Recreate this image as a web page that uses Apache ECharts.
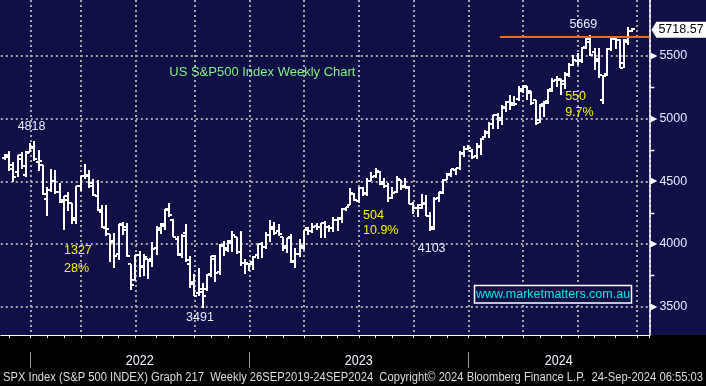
<!DOCTYPE html>
<html><head><meta charset="utf-8">
<script src="https://cdn.jsdelivr.net/npm/echarts@6/dist/echarts.min.js"></script>
<style>html,body{margin:0;padding:0;background:#000}#c{width:706px;height:386px}</style>
</head><body><div id="c"></div>
<script>
// ---------------- DATA ----------------
const weeks = [
'2021-11-19','2021-11-26','2021-12-03','2021-12-10','2021-12-17','2021-12-24','2021-12-31',
'2022-01-07','2022-01-14','2022-01-21','2022-01-28','2022-02-04','2022-02-11','2022-02-18','2022-02-25',
'2022-03-04','2022-03-11','2022-03-18','2022-03-25','2022-04-01','2022-04-08','2022-04-15','2022-04-22','2022-04-29',
'2022-05-06','2022-05-13','2022-05-20','2022-05-27','2022-06-03','2022-06-10','2022-06-17','2022-06-24',
'2022-07-01','2022-07-08','2022-07-15','2022-07-22','2022-07-29','2022-08-05','2022-08-12','2022-08-19','2022-08-26',
'2022-09-02','2022-09-09','2022-09-16','2022-09-23','2022-09-30','2022-10-07','2022-10-14','2022-10-21','2022-10-28',
'2022-11-04','2022-11-11','2022-11-18','2022-11-25','2022-12-02','2022-12-09','2022-12-16','2022-12-23','2022-12-30',
'2023-01-06','2023-01-13','2023-01-20','2023-01-27','2023-02-03','2023-02-10','2023-02-17','2023-02-24',
'2023-03-03','2023-03-10','2023-03-17','2023-03-24','2023-03-31','2023-04-07','2023-04-14','2023-04-21','2023-04-28',
'2023-05-05','2023-05-12','2023-05-19','2023-05-26','2023-06-02','2023-06-09','2023-06-16','2023-06-23','2023-06-30',
'2023-07-07','2023-07-14','2023-07-21','2023-07-28','2023-08-04','2023-08-11','2023-08-18','2023-08-25',
'2023-09-01','2023-09-08','2023-09-15','2023-09-22','2023-09-29','2023-10-06','2023-10-13','2023-10-20','2023-10-27',
'2023-11-03','2023-11-10','2023-11-17','2023-11-24','2023-12-01','2023-12-08','2023-12-15','2023-12-22','2023-12-29',
'2024-01-05','2024-01-12','2024-01-19','2024-01-26','2024-02-02','2024-02-09','2024-02-16','2024-02-23',
'2024-03-01','2024-03-08','2024-03-15','2024-03-22','2024-03-29','2024-04-05','2024-04-12','2024-04-19','2024-04-26',
'2024-05-03','2024-05-10','2024-05-17','2024-05-24','2024-05-31','2024-06-07','2024-06-14','2024-06-21','2024-06-28',
'2024-07-05','2024-07-12','2024-07-19','2024-07-26','2024-08-02','2024-08-09','2024-08-16','2024-08-23','2024-08-30',
'2024-09-06','2024-09-13','2024-09-20','2024-09-27'
];
const futureWeeks = ['2024-10-04','2024-10-11','2024-10-18','2024-10-25'];

const open = [
4689,4712,4628,4572,4675,4549,4733,
4778,4655,4632,4356,4431,4505,4412,4332,4354,4327,4188,4462,4541,4547,4462,4385,4255,
4130,4081,4013,3919,4153,4134,3838,3715,3913,3815,3880,3880,3965,4113,4158,4270,4195,
4041,3910,4084,3843,3682,3610,3619,3638,3762,3881,3780,3982,3956,4006,4052,3940,3845,3844,
3853,3911,3999,3979,4070,4120,4100,4052,3982,4055,3855,3917,3982,4130,4100,4140,4134,
4166,4136,4126,4190,4200,4283,4310,4396,4344,4450,4405,4505,4543,4578,4492,4460,4364,
4415,4510,4463,4453,4316,4284,4289,4320,4224,4139,4364,4407,4512,4554,4593,4610,4725,4758,
4745,4703,4773,4853,4886,4957,5026,4989,5094,5130,5111,5154,5219,5257,5218,5150,4988,
5115,5142,5233,5305,5315,5297,5355,5431,5459,5471,5572,5638,5531,5477,5151,5355,5557,5636,
5624,5442,5615,5703
];
const high = [
4718,4744,4652,4713,4731,4741,4808,
4818,4749,4632,4453,4595,4590,4490,4385,4417,4327,4465,4546,4637,4593,4520,4513,4309,
4308,4082,4090,4158,4178,4168,3838,3913,3946,3918,3880,4013,4141,4167,4280,4325,4203,
4062,4077,4160,3907,3760,3807,3688,3762,3906,3911,4001,4028,4034,4101,4052,4101,3879,3852,
3907,4004,4015,4095,4195,4176,4156,4052,4049,4079,3965,4039,4110,4133,4164,4170,4170,
4186,4155,4212,4213,4290,4299,4448,4409,4458,4456,4527,4578,4607,4584,4527,4490,4458,
4541,4514,4527,4465,4338,4320,4398,4393,4256,4374,4415,4521,4568,4595,4609,4739,4779,4793,
4755,4803,4842,4907,4975,5030,5048,5111,5140,5190,5180,5262,5265,5264,5222,5150,5114,
5139,5239,5325,5342,5315,5375,5447,5506,5523,5570,5656,5669,5566,5566,5346,5564,5643,5651,
5636,5636,5733,5725
];
const low = [
4672,4585,4495,4532,4600,4531,4733,
4662,4582,4395,4222,4414,4401,4327,4114,4267,4157,4162,4424,4517,4450,4381,4267,4124,
4062,3859,3810,3876,4074,3900,3637,3705,3738,3742,3722,3818,3911,4079,4112,4218,4058,
3907,3887,3856,3647,3584,3585,3491,3628,3740,3698,3751,3906,3933,3938,3918,3828,3764,3783,
3794,3877,3885,3962,4015,4070,4061,3944,3928,3846,3808,3899,3951,4069,4086,4114,4049,
4048,4099,4098,4103,4166,4260,4308,4340,4328,4385,4385,4503,4528,4474,4450,4335,4356,
4404,4430,4446,4316,4238,4216,4282,4223,4104,4113,4334,4401,4511,4537,4547,4594,4697,4751,
4682,4682,4714,4845,4845,4918,4920,4946,5057,5070,5105,5138,5203,5146,5107,4953,4963,
5011,5119,5211,5256,5191,5234,5330,5420,5428,5448,5557,5497,5390,5326,5120,5337,5538,5560,
5403,5403,5588,5689
];
const close = [
4698,4595,4538,4712,4621,4725,4766,
4677,4663,4398,4432,4501,4419,4349,4385,4329,4204,4463,4543,4546,4488,4392,4272,4132,
4123,4024,3901,4158,4109,3901,3675,3912,3825,3899,3863,3962,4130,4145,4280,4228,4058,
3924,4067,3873,3693,3586,3640,3583,3752,3901,3771,3993,3965,4026,4072,3934,3852,3845,3840,
3895,3999,3973,4071,4136,4090,4080,3970,4046,3862,3917,3971,4109,4105,4138,4133,4169,
4136,4124,4191,4205,4282,4299,4410,4348,4450,4399,4505,4536,4582,4478,4464,4370,4406,
4515,4457,4450,4320,4288,4308,4327,4224,4117,4358,4415,4514,4559,4595,4604,4719,4755,4770,
4697,4784,4840,4891,4959,5027,5006,5089,5137,5124,5117,5234,5254,5204,5123,4967,5100,
5128,5223,5303,5305,5278,5347,5432,5465,5460,5567,5615,5505,5459,5346,5344,5554,5634,5648,
5408,5626,5703,5718.57
];

const quarterStarts = ['2022-01-07','2022-04-01','2022-07-01','2022-10-07','2023-01-06','2023-04-07',
  '2023-07-07','2023-10-06','2024-01-05','2024-04-05','2024-07-05','2024-10-11'];
const monthStarts = ['2021-12-03','2022-01-07','2022-02-04','2022-03-04','2022-04-01','2022-05-06','2022-06-03',
  '2022-07-01','2022-08-05','2022-09-02','2022-10-07','2022-11-04','2022-12-02','2023-01-06','2023-02-03',
  '2023-03-03','2023-04-07','2023-05-05','2023-06-02','2023-07-07','2023-08-04','2023-09-01','2023-10-06',
  '2023-11-03','2023-12-01','2024-01-05','2024-02-02','2024-03-01','2024-04-05','2024-05-03','2024-06-07',
  '2024-07-05','2024-08-02','2024-09-06','2024-10-11'];
const yearLabels = ['2022','2023','2024'];
const yearStarts = ['2022-01-07','2023-01-06','2024-01-05'];
const yMin = 3274, yMax = 5947;
const yMajorTicks = [3500,4000,4500,5000,5500];
const yMinorTicks = [3750,4250,4750,5250];
const resistanceLevel = 5655;
const resistanceFrom = '2024-02-23';
const lastPrice = 5718.57;

const annoText  = ['4818','1327','28%','3491','504','10.9%','4103','5669','550','9.7%','US S&P500 Index Weekly Chart'];
const annoWeek  = ['2021-12-17','2022-03-04','2022-03-04','2022-09-23','2023-07-14','2023-07-14','2023-10-13',
                   '2024-06-21','2024-06-14','2024-06-14','2022-08-26'];
const annoValue = [4941,3944,3808,3417,4231,4104,3960,5755,5173,5045,5372];
const annoKind  = ['level','move','move','level','move','move','level','level','move','move','title'];

const footerText = 'SPX Index (S&P 500 INDEX) Graph 217  Weekly 26SEP2019-24SEP2024  Copyright\u00A9 2024 Bloomberg Finance L.P.  24-Sep-2024 06:55:03';
const watermark = 'www.marketmatters.com.au';

// ---------------- CHART ----------------
const FONT = '"Liberation Sans", Arial, sans-serif';
const NAVY = '#100f46';
const GRIDC = '#a6a6a6';
const annoStyle = {
  level: { color: '#e2edff', size: 12.5 },
  move:  { color: '#f4f400', size: 12.5 },
  title: { color: '#80f080', size: 13 }
};

const cats = weeks.concat(futureWeeks);
const idx = d => cats.indexOf(d);
const qSet = new Set(quarterStarts.map(idx));
const mSet = new Set(monthStarts.map(idx));

const ohlcData = weeks.map((w, i) => [i, open[i], high[i], low[i], close[i]]);

function renderOHLC(params, api) {
  const i = api.value(0);
  const band = api.size([1, 0])[0];
  const pH = api.coord([i, api.value(2)]);
  const pL = api.coord([i, api.value(3)]);
  const pO = api.coord([i, api.value(1)]);
  const pC = api.coord([i, api.value(4)]);
  const x = Math.round(pH[0] + band * 0.47);
  const st = { stroke: '#ffffff', lineWidth: 2 };
  return { type: 'group', children: [
    { type: 'line', shape: { x1: x, y1: Math.round(pH[1]), x2: x, y2: Math.round(pL[1]) }, style: st },
    { type: 'line', shape: { x1: x - 3, y1: Math.round(pO[1]), x2: x, y2: Math.round(pO[1]) }, style: st },
    { type: 'line', shape: { x1: x, y1: Math.round(pC[1]), x2: x + 3, y2: Math.round(pC[1]) }, style: st }
  ]};
}

function renderAnno(params, api) {
  const k = params.dataIndex;
  const p = api.coord([api.value(0), api.value(1)]);
  const band = api.size([1, 0])[0];
  const s = annoStyle[annoKind[k]];
  return { type: 'text', x: p[0] - band / 2, y: p[1],
    style: { text: annoText[k], fill: s.color, fontSize: s.size, fontFamily: FONT, align: 'left', verticalAlign: 'middle' } };
}

function renderAxisMark(params, api) {
  const y = Math.round(api.coord([0, api.value(1)])[1]);
  const xr = params.coordSys.x + params.coordSys.width;
  if (api.value(2) === 1) {
    return { type: 'polygon', shape: { points: [[xr + 1, y - 3.5], [xr + 1, y + 3.5], [xr + 8, y]] }, style: { fill: '#ffffff' } };
  }
  return { type: 'line', shape: { x1: xr, y1: y + 0.5, x2: xr + 5, y2: y + 0.5 }, style: { stroke: '#ffffff', lineWidth: 1.5 } };
}

function renderTag(params, api) {
  const y = api.coord([0, api.value(1)])[1] + 1;
  const xr = params.coordSys.x + params.coordSys.width;
  const W = api.getWidth();
  return { type: 'group', children: [
    { type: 'polygon', shape: { points: [[xr + 2, y], [xr + 7, y - 8], [W, y - 8], [W, y + 8], [xr + 7, y + 8]] }, style: { fill: '#ffffff' } },
    { type: 'text', x: xr + 9, y: y, style: { text: lastPrice.toFixed(2), fill: '#000000', fontSize: 12.5, fontFamily: FONT, align: 'left', verticalAlign: 'middle' } }
  ]};
}

function renderResistance(params, api) {
  const p = api.coord([api.value(0), api.value(1)]);
  const xr = params.coordSys.x + params.coordSys.width;
  const y = Math.round(p[1]);
  return { type: 'line', shape: { x1: p[0], y1: y, x2: xr, y2: y }, style: { stroke: '#ff6a10', lineWidth: 2 } };
}

const chart = echarts.init(document.getElementById('c'), null, { renderer: 'canvas' });
const lineDot = { color: GRIDC, width: 2, type: [2, 3] };

chart.setOption({
  backgroundColor: NAVY,
  animation: false,
  grid: { left: 0.8, right: 706 - 649.4, top: 0, bottom: 51, containLabel: false, outerBoundsMode: 'none' },
  xAxis: {
    type: 'category', data: cats, boundaryGap: true,
    axisLine: { show: true, onZero: false, lineStyle: { color: '#ffffff', width: 1 } },
    axisTick: { show: true, length: 3, interval: (i) => mSet.has(i), lineStyle: { color: '#ffffff', width: 1 } },
    axisLabel: { show: false },
    splitLine: { show: true, interval: (i) => qSet.has(i), lineStyle: lineDot }
  },
  yAxis: {
    type: 'value', position: 'right', min: yMin, max: yMax, splitNumber: 5,
    axisLine: { show: true, onZero: false, lineStyle: { color: '#ffffff', width: 1.5 } },
    axisTick: { show: false },
    axisLabel: { show: true, color: '#e0eaff', fontSize: 12.5, fontFamily: FONT, margin: 10,
      showMinLabel: false, showMaxLabel: false, formatter: v => String(v) },
    splitLine: { show: true, showMinLine: false, showMaxLine: false, lineStyle: lineDot }
  },
  series: [
    { type: 'custom', name: 'SPX', renderItem: renderOHLC, data: ohlcData, encode: { x: 0, y: [1, 2, 3, 4] }, z: 2, clip: true, silent: true },
    { type: 'custom', name: 'resistance', renderItem: renderResistance, data: [[idx(resistanceFrom), resistanceLevel]], encode: { x: 0, y: 1 }, z: 3, silent: true },
    { type: 'custom', name: 'notes', renderItem: renderAnno, data: annoWeek.map((w, k) => [idx(w), annoValue[k]]), encode: { x: 0, y: 1 }, z: 4, silent: true },
    { type: 'custom', name: 'axisMarks', renderItem: renderAxisMark,
      data: yMajorTicks.map(v => [0, v, 1]).concat(yMinorTicks.map(v => [0, v, 0])), encode: { x: 0, y: 1 }, z: 5, silent: true },
    { type: 'custom', name: 'lastTag', renderItem: renderTag, data: [[weeks.length - 1, lastPrice]], encode: { x: 0, y: 1 }, z: 6, silent: true }
  ]
});

// ----- bottom strip: year labels, separators, footer -----
const px = i => chart.convertToPixel({ xAxisIndex: 0 }, i);
const band = px(1) - px(0);
const bnd = i => px(i) - band / 2;
const gridRight = px(cats.length - 1) + band / 2;
const ctx = document.createElement('canvas').getContext('2d');
function fitScale(text, size, target) { ctx.font = size + 'px ' + FONT; return target / ctx.measureText(text).width; }

const yb = yearStarts.map(idx).map(bnd);
const yEdges = yb.concat([gridRight]);
const graphics = [
  { type: 'rect', z: -10, shape: { x: 0, y: 335, width: 706, height: 51 }, style: { fill: '#000000' } }
];
yb.forEach(x => graphics.push({ type: 'line', z: 50, shape: { x1: Math.round(x) + 0.5, y1: 352, x2: Math.round(x) + 0.5, y2: 368 }, style: { stroke: '#9a9a9a', lineWidth: 1 } }));
yearLabels.forEach((t, k) => {
  const cx = (yEdges[k] + yEdges[k + 1]) / 2;
  graphics.push({ type: 'text', z: 50, x: cx, y: 361, scaleX: fitScale(t, 14.5, 28),
    style: { text: t, fill: '#f0f0ff', fontSize: 14.5, fontFamily: FONT, align: 'center', verticalAlign: 'middle' } });
});
graphics.push({ type: 'text', z: 50, x: 3, y: 378, scaleX: fitScale(footerText, 12, 700),
  style: { text: footerText, fill: '#dcdcdc', fontSize: 12, fontFamily: FONT, align: 'left', verticalAlign: 'middle' } });
graphics.push({ type: 'rect', z: 50, shape: { x: 474.5, y: 285.5, width: 157, height: 17.5 }, style: { fill: NAVY, stroke: '#ffffff', lineWidth: 1.5 } });
graphics.push({ type: 'text', z: 51, x: 553, y: 294.5,
  style: { text: watermark, fill: '#10e4e4', fontSize: 12.5, fontFamily: FONT, align: 'center', verticalAlign: 'middle' } });

chart.setOption({ graphic: { elements: graphics } });
</script>
</body></html>
